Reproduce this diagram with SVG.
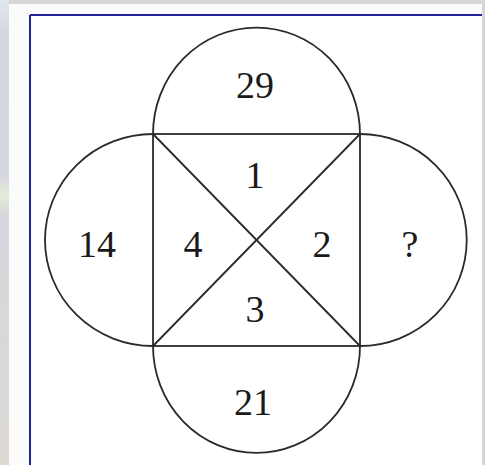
<svg xmlns="http://www.w3.org/2000/svg" width="485" height="465" viewBox="0 0 485 465">
<defs>
<linearGradient id="bgL" x1="0" y1="0" x2="0" y2="1">
<stop offset="0" stop-color="#e2e6ee"/>
<stop offset="0.08" stop-color="#d4d6de"/>
<stop offset="0.38" stop-color="#d6d8e0"/>
<stop offset="0.42" stop-color="#e4ecd8"/>
<stop offset="0.46" stop-color="#d6d8de"/>
<stop offset="1" stop-color="#dcd8d4"/>
</linearGradient>
<style>
.ln{fill:none;stroke:#2a2a2a;stroke-width:1.8}
.t{font-family:"Liberation Serif","Times New Roman",serif;font-size:38px;fill:#1a1a1a;text-anchor:middle}
</style>
</defs>
<rect x="0" y="0" width="485" height="465" fill="#d4d4da"/>
<rect x="0" y="0" width="485" height="4" fill="#d8d6d8"/>
<rect x="0" y="0" width="9" height="465" fill="url(#bgL)"/>
<rect x="9" y="4" width="473" height="461" fill="#fbfbfb"/>
<rect x="30" y="15" width="452" height="450" fill="#ffffff"/>
<g id="frame" fill="none" stroke="#22229a" stroke-width="2">
<line x1="30" y1="15" x2="482" y2="15"/>
<line x1="30" y1="15" x2="30" y2="465"/>
</g>
<g id="connectors">
<rect class="ln" x="153" y="134" width="207" height="212"/>
<line class="ln" x1="153" y1="134" x2="360" y2="346"/>
<line class="ln" x1="360" y1="134" x2="153" y2="346"/>
</g>
<g id="top"><path class="ln" d="M153 134 A103.5 106.5 0 0 1 360 134"/><text class="t" x="255" y="98">29</text></g>
<g id="bottom"><path class="ln" d="M153 346 A103.5 107 0 0 0 360 346"/><text class="t" x="253" y="415">21</text></g>
<g id="left"><path class="ln" d="M153 134 A108 106 0 0 0 153 346"/><text class="t" x="97" y="257">14</text></g>
<g id="right"><path class="ln" d="M360 134 A106.7 106 0 0 1 360 346"/><text class="t" x="410" y="257">?</text></g>
<g id="q1"><text class="t" x="255" y="188">1</text></g>
<g id="q2"><text class="t" x="322" y="257">2</text></g>
<g id="q3"><text class="t" x="255" y="322">3</text></g>
<g id="q4"><text class="t" x="193" y="257">4</text></g>
</svg>
